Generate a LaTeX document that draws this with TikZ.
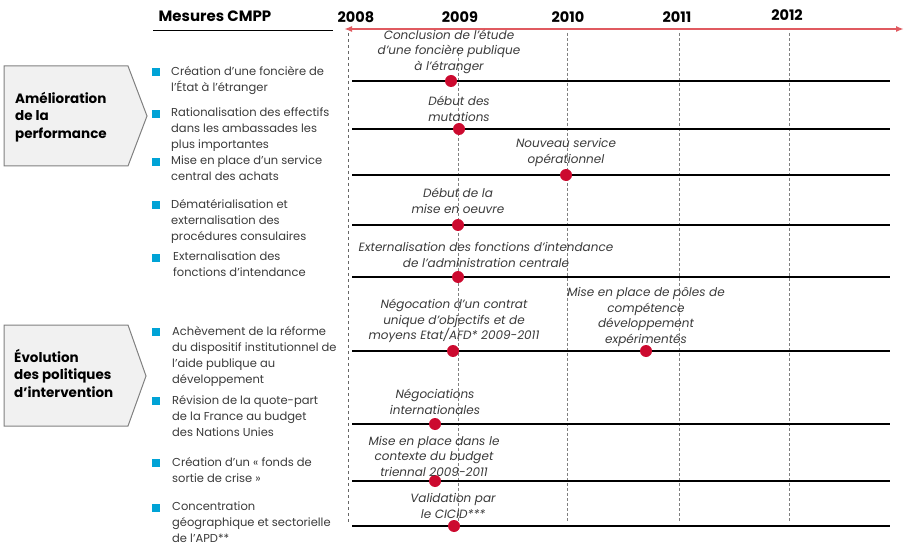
\documentclass[tikz,border=0pt]{standalone}
\usepackage{fontspec}
\setmainfont{Poppins}
\usetikzlibrary{arrows.meta}
\definecolor{dotred}{HTML}{CC0A2F}
\definecolor{axisred}{HTML}{E05A60}
\definecolor{bulletblue}{HTML}{00A3D6}
\definecolor{txtgray}{HTML}{3A3A3A}
\definecolor{boxgray}{HTML}{F1F1F1}
\tikzset{
  milestone/.style={circle,fill=dotred,inner sep=0pt,minimum size=12pt},
  rowline/.style={line width=1.6pt,black},
  yearline/.style={gray,densely dashed,line width=0.6pt},
  event/.style={font=\fontsize{12}{15.7}\selectfont\itshape,text=txtgray,align=center,anchor=south,inner sep=0pt},
  measure/.style={font=\fontsize{11.5}{16}\selectfont,text=txtgray,align=left,anchor=north west,inner sep=0pt},
  bullet/.style={fill=bulletblue,minimum size=8pt,inner sep=0pt},
  axisbox/.style={draw=gray,line width=1pt,fill=boxgray},
  axislabel/.style={font=\fontsize{13.5}{17.5}\selectfont\bfseries,text=black,align=left,anchor=north west,inner sep=0pt},
  year/.style={font=\fontsize{14.5}{15}\selectfont\bfseries}
}
\begin{document}
\begin{tikzpicture}[x=1pt,y=-1pt]
	\useasboundingbox (0,0) rectangle (905,548);
	
	% header
	\node[year,font=\fontsize{15}{15}\selectfont\bfseries] (head) at (215,16) {Mesures CMPP};
	\draw[line width=0.8pt] (153,30) -- (333,30);
	\foreach \yr/\x/\y in {2008/356/17,2009/460/17,2010/568/17,2011/677/17,2012/787/15}
	\node[year] (y\yr) at (\x,\y) {\yr};
	\coordinate (tl) at (344,29);
	\coordinate (tr) at (904,29);
	\draw[axisred,line width=1.6pt,{Latex[length=8pt,width=6pt]}-{Latex[length=8pt,width=6pt]}] (tl) -- (tr);
	
	% year grid
	\draw[dashed,line width=0.8pt,gray!80!black] (348,33) -- (348,522);
	\foreach \x/\t in {458/48,567/33,679/33,789/33}
	\draw[yearline] (\x,\t) -- (\x,522);
	
	% rows
	\foreach \r/\y in {1/81,2/129,3/175,4/225,5/277,6/351,7/424,8/481,9/526}{
	\coordinate (s\r) at (352,\y);
	\coordinate (t\r) at (890,\y);
	\draw[rowline] (s\r) -- (t\r);
	}
	
	% axes boxes
	\draw[axisbox] (4,66) -- (128,66) -- (147,116) -- (128,166) -- (4,166) -- cycle;
	\node[axislabel] (perf) at (15,92) {Amélioration\\de la\\performance};
	\draw[axisbox] (4,325) -- (128,325) -- (146,376) -- (128,426) -- (4,426) -- cycle;
	\node[axislabel] (evol) at (14,349) {Évolution\\des politiques\\d'intervention};
	
	% measures
	\foreach \m/\y in {1/72,2/114,3/162,4/205,5/258,6/332,7/401,8/463,9/508}
	\node[bullet] (b\m) at (156,\y) {};
	\node[measure] (m1) at (171,66) {Création d'une foncière de\\l'État à l'étranger};
	\node[measure] (m2) at (171,108) {Rationalisation des effectifs\\dans les ambassades les\\plus importantes};
	\node[measure] (m3) at (171,156) {Mise en place d'un service\\central des achats};
	\node[measure] (m4) at (171,199) {Dématérialisation et\\externalisation des\\procédures consulaires};
	\node[measure] (m5) at (173,252) {Externalisation des\\fonctions d'intendance};
	\node[measure] (m6) at (172,326) {Achèvement de la réforme\\du dispositif institutionnel de\\l'aide publique au\\développement};
	\node[measure] (m7) at (172,395) {Révision de la quote-part\\de la France au budget\\des Nations Unies};
	\node[measure] (m8) at (172,457) {Création d'un « fonds de\\sortie de crise »};
	\node[measure] (m9) at (172,502) {Concentration\\géographique et sectorielle\\de l'APD**};
	
	% milestones
	\node[milestone] (d1) at (451,81) {};
	\node[milestone] (d2) at (459,129) {};
	\node[milestone] (d3) at (566,175) {};
	\node[milestone] (d4) at (458,225) {};
	\node[milestone] (d5) at (458,277) {};
	\node[milestone] (d6a) at (453,351) {};
	\node[milestone] (d6b) at (646,351) {};
	\node[milestone] (d7) at (435,424) {};
	\node[milestone] (d8) at (435,481) {};
	\node[milestone] (d9) at (454,526) {};
	
	\node[event] (e1) at (449,74) {Conclusion de l'étude\\d'une foncière publique\\à l'étranger};
	\node[event] (e2) at (459,122) {Début des\\mutations};
	\node[event] (e3) at (566,167) {Nouveau service\\opérationnel};
	\node[event] (e4) at (458,214) {Début de la\\mise en oeuvre};
	\node[event] (e5) at (486,268) {Externalisation des fonctions d'intendance\\de l'administration centrale};
	\node[event] (e6a) at (454,343) {Négocation d'un contrat\\unique d'objectifs et de\\moyens Etat/AFD* 2009-2011};
	\node[event] (e6b) at (646,347) {Mise en place de pôles de\\compétence\\développement\\expérimentés};
	\node[event] (e7) at (435,415) {Négociations\\internationales};
	\node[event] (e8) at (434,477) {Mise en place dans le\\contexte du budget\\triennal 2009-2011};
	\node[event] (e9) at (453,519) {Validation par\\le CICID***};
\end{tikzpicture}
\end{document}
